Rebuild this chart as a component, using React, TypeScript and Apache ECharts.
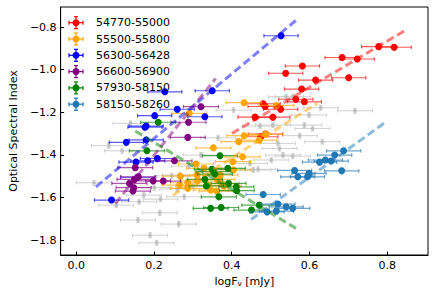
import React, { useEffect, useRef } from "react";
import * as echarts from "echarts";

const groupNames = ["54770-55000", "55500-55800", "56300-56428", "56600-56900", "57930-58150", "58150-58260"];
const groupColors = ["#ff0000", "#ffa500", "#0000ff", "#800080", "#008000", "#1f77b4"];

const redPts = [
  [0.778, -0.892], [0.818, -0.895], [0.684, -0.943], [0.723, -0.95], [0.582, -0.983], [0.539, -1.017],
  [0.616, -1.049], [0.701, -1.038], [0.58, -1.091], [0.565, -1.139], [0.587, -1.151], [0.481, -1.16],
  [0.486, -1.173], [0.526, -1.186], [0.46, -1.223], [0.506, -1.223], [0.475, -1.315], [0.487, -1.302],
];
const orangePts = [
  [0.291, -1.205], [0.432, -1.155], [0.515, -1.168], [0.432, -1.31], [0.487, -1.304], [0.418, -1.338],
  [0.471, -1.331], [0.353, -1.367], [0.428, -1.409], [0.403, -1.432], [0.308, -1.443], [0.329, -1.463],
  [0.405, -1.471], [0.311, -1.495], [0.371, -1.495], [0.268, -1.5], [0.363, -1.515], [0.312, -1.522],
  [0.375, -1.534], [0.338, -1.542], [0.38, -1.546], [0.346, -1.565], [0.361, -1.57], [0.287, -1.531],
  [0.287, -1.557], [0.266, -1.542],
];
const bluePts = [
  [0.527, -0.841], [0.35, -1.099], [0.228, -1.104], [0.26, -1.186], [0.202, -1.216], [0.331, -1.221],
  [0.18, -1.265], [0.177, -1.27], [0.18, -1.33], [0.129, -1.341], [0.154, -1.434], [0.184, -1.428],
  [0.209, -1.417], [0.158, -1.505], [0.091, -1.612],
];
const purplePts = [
  [0.321, -1.174], [0.289, -1.247], [0.287, -1.318], [0.253, -1.428], [0.152, -1.46], [0.16, -1.503],
  [0.15, -1.515], [0.198, -1.522], [0.224, -1.523], [0.137, -1.534], [0.148, -1.554], [0.146, -1.57],
];
const greenPts = [
  [0.211, -1.247], [0.182, -1.381], [0.37, -1.404], [0.39, -1.463], [0.349, -1.468], [0.353, -1.479],
  [0.357, -1.49], [0.331, -1.515], [0.392, -1.534], [0.412, -1.55], [0.335, -1.546], [0.413, -1.568],
  [0.367, -1.597], [0.346, -1.651], [0.373, -1.647], [0.471, -1.636], [0.451, -1.659],
];
const steelPts = [
  [0.688, -1.381], [0.665, -1.401], [0.626, -1.434], [0.641, -1.424], [0.656, -1.429], [0.562, -1.473],
  [0.683, -1.475], [0.599, -1.487], [0.57, -1.503], [0.595, -1.503], [0.481, -1.586], [0.519, -1.631],
  [0.54, -1.644], [0.557, -1.651], [0.491, -1.668], [0.515, -1.664],
];
const greyPts = [
  [0.046, -1.531], [0.084, -1.357], [0.118, -1.381], [0.103, -1.636], [0.162, -1.62], [0.217, -1.608],
  [0.174, -1.589], [0.201, -1.554], [0.215, -1.672], [0.159, -1.706], [0.264, -1.725], [0.19, -1.777],
  [0.207, -1.813], [0.267, -1.495], [0.278, -1.597], [0.321, -1.401], [0.405, -1.19], [0.717, -1.193],
  [0.557, -1.127], [0.54, -1.127], [0.599, -1.213], [0.629, -1.179], [0.473, -1.265], [0.506, -1.26],
  [0.587, -1.26], [0.608, -1.276], [0.575, -1.31], [0.633, -1.338], [0.523, -1.37], [0.519, -1.346],
  [0.532, -1.401], [0.557, -1.406], [0.502, -1.424], [0.447, -1.44], [0.468, -1.468], [0.456, -1.471],
  [0.29, -1.453], [0.246, -1.498], [0.3, -1.545], [0.26, -1.56], [0.14, -1.252], [0.365, -1.32],
];
const groupPoints = [redPts, orangePts, bluePts, purplePts, greenPts, steelPts];
const groupXErr = [0.044, 0.045, 0.044, 0.045, 0.045, 0.044];
const greyXErr = 0.045;
const yErr = 0.012;

const fitLines = [
  [[0.401, -1.299], [0.848, -0.814]],
  [[0.249, -1.589], [0.62, -1.158]],
  [[0.051, -1.55], [0.57, -0.762]],
  [[0.101, -1.628], [0.359, -1.041]],
  [[0.152, -1.288], [0.57, -1.75]],
  [[0.45, -1.703], [0.797, -1.245]],
];

const FONT = "DejaVu Sans";

function errRender(color: string, opacity: number, lw: number, cap: number) {
  return (params: any, api: any) => {
    const x = api.value(0), y = api.value(1), xe = api.value(2), ye = api.value(3);
    const l = api.coord([x - xe, y]);
    const r = api.coord([x + xe, y]);
    const b = api.coord([x, y - ye]);
    const t = api.coord([x, y + ye]);
    const style = { stroke: color, lineWidth: lw, opacity };
    const ln = (x1: number, y1: number, x2: number, y2: number) => ({ type: "line", shape: { x1, y1, x2, y2 }, style });
    return {
      type: "group",
      children: [
        ln(l[0], l[1], r[0], r[1]),
        ln(l[0], l[1] - cap, l[0], l[1] + cap),
        ln(r[0], r[1] - cap, r[0], r[1] + cap),
        ln(b[0], b[1], t[0], t[1]),
        ln(b[0] - cap, b[1], b[0] + cap, b[1]),
        ln(t[0] - cap, t[1], t[0] + cap, t[1]),
      ],
    };
  };
}

export default function App() {
  const ref = useRef<HTMLDivElement>(null);
  useEffect(() => {
    if (!ref.current) return;
    const chart = echarts.init(ref.current, null, { renderer: "svg" });
    const series: any[] = [];
    series.push({
      type: "custom",
      clip: true,
      z: 1,
      renderItem: errRender("#d0d0d0", 1, 1, 1.8),
      data: greyPts.map((p) => [p[0], p[1], greyXErr, yErr]),
      encode: { x: 0, y: 1 },
    });
    series.push({
      type: "scatter",
      z: 2,
      symbolSize: 4,
      itemStyle: { color: "#b8b8b8" },
      data: greyPts.map((p) => [p[0], p[1]]),
    });
    groupPoints.forEach((pts, i) => {
      series.push({
        type: "custom",
        clip: true,
        z: 3 + i,
        renderItem: errRender(groupColors[i], 0.65, 1.2, 1.8),
        data: pts.map((p) => [p[0], p[1], groupXErr[i], yErr]),
        encode: { x: 0, y: 1 },
      });
      series.push({
        type: "scatter",
        z: 3 + i,
        symbolSize: 7,
        itemStyle: { color: groupColors[i], opacity: 1 },
        data: pts.map((p) => [p[0], p[1]]),
      });
    });
    fitLines.forEach((f, i) => {
      series.push({
        type: "line",
        z: 20,
        symbol: "none",
        silent: true,
        lineStyle: { color: groupColors[i], width: 3, type: [8, 4], opacity: 0.5 },
        data: f,
      });
    });

    const graphics: any[] = [];
    groupNames.forEach((name, i) => {
      const cy = 22.7 + 16.3 * i;
      const cx = 76;
      const st = { stroke: groupColors[i], lineWidth: 1.2 };
      const ln = (x1: number, y1: number, x2: number, y2: number) => ({ type: "line", shape: { x1, y1, x2, y2 }, style: st, z: 100 });
      graphics.push(ln(cx - 7, cy, cx + 7, cy));
      graphics.push(ln(cx - 7, cy - 2, cx - 7, cy + 2));
      graphics.push(ln(cx + 7, cy - 2, cx + 7, cy + 2));
      graphics.push(ln(cx, cy - 6, cx, cy + 6));
      graphics.push(ln(cx - 2, cy - 6, cx + 2, cy - 6));
      graphics.push(ln(cx - 2, cy + 6, cx + 2, cy + 6));
      graphics.push({ type: "circle", shape: { cx, cy, r: 3.5 }, style: { fill: groupColors[i] }, z: 100 });
      graphics.push({
        type: "text",
        x: 96,
        y: cy,
        z: 100,
        style: { text: name, fill: "#000", font: `11px '${FONT}'`, textVerticalAlign: "middle", verticalAlign: "middle" },
      });
    });

    const fmt = (v: number) => v.toFixed(1).replace("-", "\u2212");
    chart.setOption({
      animation: false,
      grid: { left: 54, right: 8, top: 7, bottom: 40, show: true, borderColor: "#000", borderWidth: 1 },
      xAxis: {
        type: "value",
        min: -0.04,
        max: 0.905,
        name: "{a|logF}{b|\u03bd}{a| [mJy]}",
        nameLocation: "middle",
        nameGap: 16,
        nameTextStyle: {
          rich: {
            a: { fontFamily: FONT, fontSize: 11, color: "#000" },
            b: { fontFamily: FONT, fontSize: 7.5, color: "#000", padding: [5, 0, 0, 0] },
          },
        },
        splitLine: { show: false },
        axisLine: { onZero: false, lineStyle: { color: "#000" } },
        axisTick: { inside: true, length: 3.5, lineStyle: { color: "#000" } },
        axisLabel: { formatter: fmt, color: "#000", fontFamily: FONT, fontSize: 11, margin: 5, showMinLabel: false, showMaxLabel: false },
      },
      yAxis: {
        type: "value",
        min: -1.87,
        max: -0.706,
        name: "Optical Spectral Index",
        nameLocation: "middle",
        nameGap: 35,
        nameTextStyle: { fontFamily: FONT, fontSize: 11, color: "#000" },
        splitLine: { show: false },
        axisLine: { onZero: false, lineStyle: { color: "#000" } },
        axisTick: { inside: true, length: 3.5, lineStyle: { color: "#000" } },
        axisLabel: { formatter: fmt, color: "#000", fontFamily: FONT, fontSize: 11, margin: 4, showMinLabel: false, showMaxLabel: false },
      },
      graphic: graphics,
      series,
    });
    return () => chart.dispose();
  }, []);
  return <div ref={ref} style={{ width: 436, height: 295, position: "absolute", left: 0, top: 0 }} />;
}
